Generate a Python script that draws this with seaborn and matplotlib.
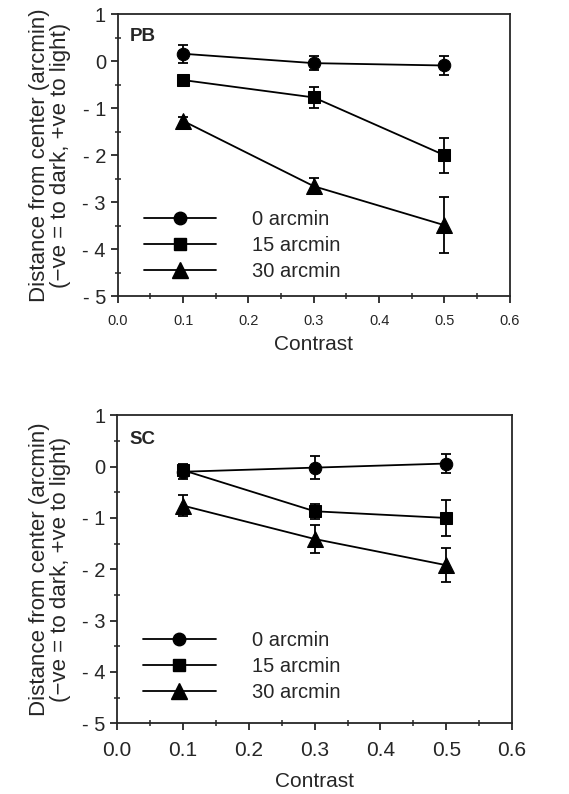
import numpy as np
import pandas as pd
import matplotlib
matplotlib.use("Agg")
import matplotlib.pyplot as plt
import seaborn as sns
from matplotlib.ticker import MultipleLocator

# Data
contrast = [0.1, 0.3, 0.5]
offsets = ["0 arcmin", "15 arcmin", "30 arcmin"]

pb_0 = [0.16, -0.04, -0.09]
pb_0_err = [0.19, 0.15, 0.20]
pb_15 = [-0.40, -0.77, -2.00]
pb_15_err = [0.05, 0.23, 0.37]
pb_30 = [-1.27, -2.66, -3.49]
pb_30_err = [0.08, 0.17, 0.60]

sc_0 = [-0.10, -0.02, 0.06]
sc_0_err = [0.15, 0.22, 0.19]
sc_15 = [-0.07, -0.87, -1.00]
sc_15_err = [0.10, 0.15, 0.35]
sc_30 = [-0.76, -1.41, -1.92]
sc_30_err = [0.20, 0.27, 0.33]

markers = {"0 arcmin": "o", "15 arcmin": "s", "30 arcmin": "^"}
msizes = {"0 arcmin": 9, "15 arcmin": 9, "30 arcmin": 11}


def make_df(vals, errs):
    rows = []
    for off, v, e in zip(offsets, vals, errs):
        for c, y, er in zip(contrast, v, e):
            rows.append({"Contrast": c, "Distance": y, "Err": er, "Offset": off})
    return pd.DataFrame(rows)


df_pb = make_df([pb_0, pb_15, pb_30], [pb_0_err, pb_15_err, pb_30_err])
df_sc = make_df([sc_0, sc_15, sc_30], [sc_0_err, sc_15_err, sc_30_err])

sns.set_style("ticks")
plt.rcParams["font.family"] = ["Liberation Sans", "DejaVu Sans"]

fig = plt.figure(figsize=(5.69, 7.94), dpi=100)
ax1 = fig.add_axes([0.207, 0.627, 0.689, 0.355])
ax2 = fig.add_axes([0.206, 0.089, 0.694, 0.388])


def draw(ax, df, name, xtick_size, xpad, xlabpad, leg_y):
    for off in offsets:
        sub = df[df["Offset"] == off]
        ax.errorbar(sub["Contrast"], sub["Distance"], yerr=sub["Err"],
                    fmt="none", ecolor="black", elinewidth=1.3, capsize=3.5,
                    capthick=1.3, zorder=2)
    sns.lineplot(data=df, x="Contrast", y="Distance", style="Offset",
                 markers=markers, dashes=False, color="black", ax=ax,
                 linewidth=1.3, markersize=9, markeredgecolor="black",
                 legend=False, zorder=3)
    # enlarge triangle markers
    for line, off in zip(ax.lines[-3:], offsets):
        line.set_markersize(msizes[off])
    ax.set_xlim(0.0, 0.6)
    ax.set_ylim(-5, 1)
    ax.xaxis.set_major_locator(MultipleLocator(0.1))
    ax.xaxis.set_minor_locator(MultipleLocator(0.05))
    ax.yaxis.set_major_locator(MultipleLocator(1))
    ax.yaxis.set_minor_locator(MultipleLocator(0.5))
    ax.set_xticks(np.arange(0, 0.61, 0.1))
    ax.set_xticklabels(["0.0", "0.1", "0.2", "0.3", "0.4", "0.5", "0.6"],
                       fontsize=xtick_size)
    ax.set_yticks(range(-5, 2))
    ax.set_yticklabels(["- 5", "- 4", "- 3", "- 2", "- 1", "0", "1"], fontsize=14.5)
    ax.tick_params(which="major", direction="out", length=5, width=1.3)
    ax.tick_params(axis="x", which="major", pad=xpad)
    ax.tick_params(which="minor", direction="inout", length=4, width=1.1)
    for s in ax.spines.values():
        s.set_linewidth(1.3)
        s.set_visible(True)
    ax.set_xlabel("Contrast", fontsize=15, labelpad=xlabpad)
    ax.set_ylabel("Distance from center (arcmin)\n(\u2212ve = to dark, +ve to light)",
                  fontsize=16, labelpad=8, linespacing=1.0)
    ax.text(0.03, 0.92, name, transform=ax.transAxes, fontsize=13.5,
            fontweight="bold", va="center", ha="left")
    handles = [plt.Line2D([], [], color="black", lw=1.3, marker=markers[o],
                          markersize=msizes[o]) for o in offsets]
    ax.legend(handles, offsets, loc="lower left", bbox_to_anchor=(0.02, leg_y),
              frameon=False, fontsize=14.5, handlelength=3.6, handletextpad=1.8,
              labelspacing=0.35)


draw(ax1, df_pb, "PB", 10.5, 8, 5, -0.01)
draw(ax2, df_sc, "SC", 15, 8, 8, 0.01)

fig.savefig("out.png", dpi=100)
